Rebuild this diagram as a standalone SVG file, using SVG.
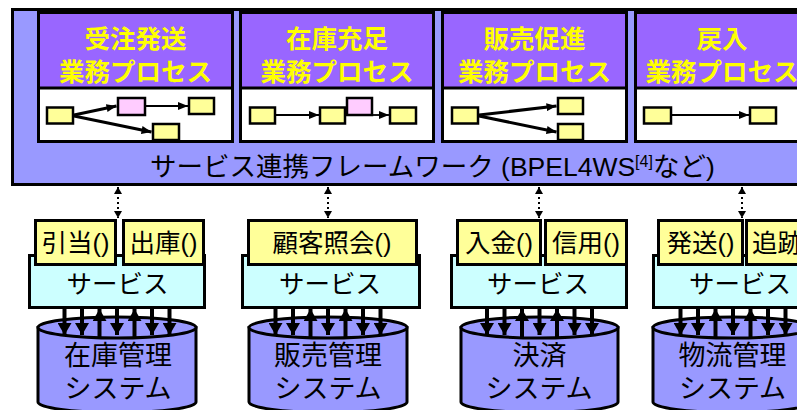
<svg xmlns="http://www.w3.org/2000/svg" width="797" height="410" viewBox="0 0 797 410">
<defs>
<style>
.frame{fill:#9999FF;stroke:#000;stroke-width:3}
.pbox{fill:#fff;stroke:#000;stroke-width:3}
.phead{fill:#9966FF;stroke:#000;stroke-width:3}
.ptxt{font-family:"Liberation Sans","Noto Sans CJK JP",sans-serif;font-weight:bold;font-size:25.5px;fill:#FFFF00;text-anchor:middle}
.sy{fill:#FFFF99;stroke:#000;stroke-width:2.5}
.sp{fill:#FFCCFF;stroke:#000;stroke-width:2.5}
.fl{stroke:#000;fill:none;marker-end:url(#ah)}
.svc{fill:#CCFFFF;stroke:#000;stroke-width:3}
.mth{fill:#FFFF99;stroke:#000;stroke-width:3}
.txt{font-family:"Liberation Sans","Noto Sans CJK JP",sans-serif;font-size:25.5px;fill:#000;text-anchor:middle}
.ctxt{font-family:"Liberation Sans","Noto Sans CJK JP",sans-serif;font-size:27px;fill:#000;text-anchor:middle}
.cyl{fill:#9999FF;stroke:#000;stroke-width:3}
.dot{stroke:#000;stroke-width:2;stroke-dasharray:2,3;fill:none;marker-start:url(#sa);marker-end:url(#sa)}
.va{stroke:#000;stroke-width:4;fill:none;marker-end:url(#ba)}
</style>
<marker id="ah" markerUnits="userSpaceOnUse" markerWidth="10" markerHeight="8" refX="10" refY="4" orient="auto"><path d="M0,0 L10,4 L0,8 z" fill="#000"/></marker>
<marker id="sa" markerUnits="userSpaceOnUse" markerWidth="7" markerHeight="8" refX="7" refY="4" orient="auto-start-reverse"><path d="M0,0 L7,4 L0,8 z" fill="#000"/></marker>
<marker id="ba" markerUnits="userSpaceOnUse" markerWidth="12" markerHeight="14" refX="12" refY="7" orient="auto"><path d="M0,0 L12,7 L0,14 z" fill="#000"/></marker>
</defs>

<g id="framework">
<rect class="frame" x="12.5" y="9.5" width="800" height="175"/>
<text x="150" y="176" style="font-family:'Liberation Sans','Noto Sans CJK JP',sans-serif;font-size:26.5px;fill:#000">サービス連携フレームワーク (BPEL4WS<tspan font-size="16" dy="-9">[4]</tspan><tspan dy="9">など)</tspan></text>
</g>

<g id="proc1">
<rect class="pbox" x="38.5" y="12.5" width="194" height="129"/>
<rect class="phead" x="38.5" y="12.5" width="194" height="75.5"/>
<text class="ptxt" x="135.5" y="48" font-size="27">受注発送</text>
<text class="ptxt" x="135.5" y="81">業務プロセス</text>
<rect class="sy" x="47" y="107.5" width="26" height="16"/>
<rect class="sp" x="118" y="98" width="27" height="17"/>
<rect class="sy" x="189" y="98" width="25" height="16"/>
<rect class="sy" x="153" y="124" width="26" height="16"/>
<line class="fl" x1="74" y1="115" x2="116.5" y2="106" stroke-width="3"/>
<line class="fl" x1="146" y1="106" x2="188" y2="106" stroke-width="2"/>
<line class="fl" x1="74" y1="116" x2="151.5" y2="132" stroke-width="3"/>
</g>

<g id="proc2">
<rect class="pbox" x="240.5" y="12.5" width="193" height="129"/>
<rect class="phead" x="240.5" y="12.5" width="193" height="75.5"/>
<text class="ptxt" x="337" y="48" font-size="27">在庫充足</text>
<text class="ptxt" x="337" y="81">業務プロセス</text>
<rect class="sy" x="250" y="107.5" width="25" height="16"/>
<rect class="sy" x="320" y="107.5" width="25" height="16"/>
<rect class="sp" x="347" y="98" width="25" height="17"/>
<rect class="sy" x="390" y="107.5" width="26" height="16"/>
<line class="fl" x1="276" y1="115" x2="319" y2="115" stroke-width="1.8"/>
<line class="fl" x1="373" y1="115" x2="389" y2="115" stroke-width="1.8"/>
</g>

<g id="proc3">
<rect class="pbox" x="442.5" y="12.5" width="184" height="129"/>
<rect class="phead" x="442.5" y="12.5" width="184" height="75.5"/>
<text class="ptxt" x="534.5" y="48" font-size="27">販売促進</text>
<text class="ptxt" x="534.5" y="81">業務プロセス</text>
<rect class="sy" x="452" y="107.5" width="26" height="16"/>
<rect class="sy" x="558" y="98" width="25" height="16"/>
<rect class="sy" x="558" y="124" width="25" height="16"/>
<line class="fl" x1="479" y1="115" x2="556.5" y2="106" stroke-width="3"/>
<line class="fl" x1="479" y1="116" x2="556.5" y2="132" stroke-width="3"/>
</g>

<g id="proc4">
<rect class="pbox" x="635.5" y="12.5" width="180" height="129"/>
<rect class="phead" x="635.5" y="12.5" width="180" height="75.5"/>
<text class="ptxt" x="722" y="48" font-size="27">戻入</text>
<text class="ptxt" x="722" y="81">業務プロセス</text>
<rect class="sy" x="644" y="107.5" width="27" height="16"/>
<rect class="sy" x="750" y="107.5" width="26" height="16"/>
<line class="fl" x1="672" y1="115" x2="749" y2="115" stroke-width="1.8"/>
</g>

<g id="db1">
<path class="cyl" d="M38,327.5 V402 A79,10.5 0 0 0 196,402 V327.5 Z"/>
<ellipse class="cyl" cx="117" cy="327.5" rx="79" ry="10.5"/>
<text class="ctxt" x="118" y="365">在庫管理</text>
<text class="ctxt" x="118" y="398">システム</text>
</g>
<g id="db2">
<path class="cyl" d="M249,327.5 V402 A79,10.5 0 0 0 407,402 V327.5 Z"/>
<ellipse class="cyl" cx="328" cy="327.5" rx="79" ry="10.5"/>
<text class="ctxt" x="328" y="365">販売管理</text>
<text class="ctxt" x="328" y="398">システム</text>
</g>
<g id="db3">
<path class="cyl" d="M461,327.5 V402 A78.5,10.5 0 0 0 618,402 V327.5 Z"/>
<ellipse class="cyl" cx="539.5" cy="327.5" rx="78.5" ry="10.5"/>
<text class="ctxt" x="539.5" y="365">決済</text>
<text class="ctxt" x="539" y="398">システム</text>
</g>
<g id="db4">
<path class="cyl" d="M653,327.5 V402 A79,10.5 0 0 0 811,402 V327.5 Z"/>
<ellipse class="cyl" cx="732" cy="327.5" rx="79" ry="10.5"/>
<text class="ctxt" x="732.5" y="365">物流管理</text>
<text class="ctxt" x="732.5" y="398">システム</text>
</g>

<g id="svc1">
<rect class="svc" x="29.5" y="255.5" width="175" height="52"/>
<text class="txt" x="117.5" y="293">サービス</text>
<rect class="mth" x="35.5" y="220.5" width="80" height="44"/>
<text class="txt" x="75.5" y="252">引当()</text>
<rect class="mth" x="123.5" y="220.5" width="80" height="44"/>
<text class="txt" x="163.5" y="252">出庫()</text>
</g>
<g id="svc2">
<rect class="svc" x="242.5" y="255.5" width="177" height="52"/>
<text class="txt" x="330" y="293">サービス</text>
<rect class="mth" x="248.5" y="220.5" width="168" height="44"/>
<text class="txt" x="332" y="252">顧客照会()</text>
</g>
<g id="svc3">
<rect class="svc" x="451.5" y="255.5" width="175" height="52"/>
<text class="txt" x="538" y="293">サービス</text>
<rect class="mth" x="457.5" y="220.5" width="83" height="44"/>
<text class="txt" x="499" y="252">入金()</text>
<rect class="mth" x="545.5" y="220.5" width="81" height="44"/>
<text class="txt" x="586" y="252">信用()</text>
</g>
<g id="svc4">
<rect class="svc" x="653.5" y="255.5" width="175" height="52"/>
<text class="txt" x="740" y="293">サービス</text>
<rect class="mth" x="658.5" y="220.5" width="84" height="44"/>
<text class="txt" x="700.5" y="252">発送()</text>
<rect class="mth" x="746.5" y="220.5" width="84" height="44"/>
<text class="txt" x="752" y="252" style="text-anchor:start">追跡()</text>
</g>

<g id="connectors">
<line class="dot" x1="118" y1="187" x2="118" y2="218"/>
<line class="dot" x1="328" y1="187" x2="328" y2="218"/>
<line class="dot" x1="539" y1="187" x2="539" y2="218"/>
<line class="dot" x1="742" y1="187" x2="742" y2="218"/>

<line class="va" x1="64.5" y1="309" x2="64.5" y2="335"/>
<line class="va" x1="82" y1="309" x2="82" y2="335"/>
<line class="va" x1="99.5" y1="337" x2="99.5" y2="309"/>
<line class="va" x1="117" y1="309" x2="117" y2="335"/>
<line class="va" x1="134.5" y1="337" x2="134.5" y2="309"/>
<line class="va" x1="152" y1="309" x2="152" y2="335"/>
<line class="va" x1="169.5" y1="309" x2="169.5" y2="335"/>

<line class="va" x1="275.5" y1="309" x2="275.5" y2="335"/>
<line class="va" x1="293" y1="309" x2="293" y2="335"/>
<line class="va" x1="310.5" y1="337" x2="310.5" y2="309"/>
<line class="va" x1="328" y1="309" x2="328" y2="335"/>
<line class="va" x1="345.5" y1="337" x2="345.5" y2="309"/>
<line class="va" x1="363" y1="309" x2="363" y2="335"/>
<line class="va" x1="380.5" y1="309" x2="380.5" y2="335"/>

<line class="va" x1="487" y1="309" x2="487" y2="335"/>
<line class="va" x1="504.5" y1="309" x2="504.5" y2="335"/>
<line class="va" x1="522" y1="337" x2="522" y2="309"/>
<line class="va" x1="539.5" y1="309" x2="539.5" y2="335"/>
<line class="va" x1="557" y1="337" x2="557" y2="309"/>
<line class="va" x1="574.5" y1="309" x2="574.5" y2="335"/>
<line class="va" x1="592" y1="309" x2="592" y2="335"/>

<line class="va" x1="680.5" y1="309" x2="680.5" y2="335"/>
<line class="va" x1="698" y1="309" x2="698" y2="335"/>
<line class="va" x1="715.5" y1="337" x2="715.5" y2="309"/>
<line class="va" x1="733" y1="309" x2="733" y2="335"/>
<line class="va" x1="750.5" y1="337" x2="750.5" y2="309"/>
<line class="va" x1="768" y1="309" x2="768" y2="335"/>
<line class="va" x1="785.5" y1="309" x2="785.5" y2="335"/>
</g>
</svg>
